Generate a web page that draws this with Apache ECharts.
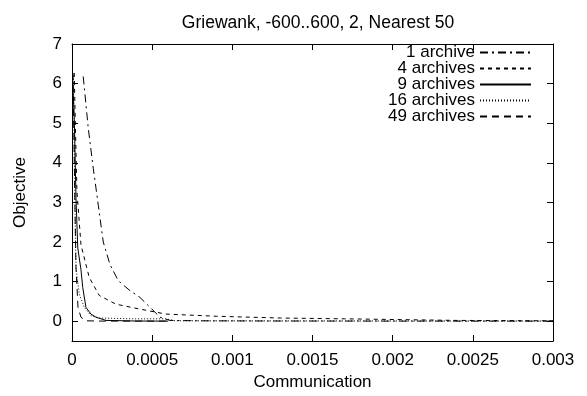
<!DOCTYPE html>
<html>
<head>
<meta charset="utf-8">
<script src="https://cdn.jsdelivr.net/npm/echarts@6/dist/echarts.min.js"></script>
<style>html,body{margin:0;padding:0;background:#fff;}#c{width:587px;height:396px;}</style>
</head>
<body>
<div id="c"></div>
<script>
const titleText = 'Griewank, -600..600, 2, Nearest 50';
const seriesNames = ['1 archive', '4 archives', '9 archives', '16 archives', '49 archives'];
const xTicks = [0, 0.0005, 0.001, 0.0015, 0.002, 0.0025, 0.003];
const yTicks = [0, 1, 2, 3, 4, 5, 6, 7];

const comm1 = [0.00007, 0.000102, 0.000133, 0.000164, 0.000195, 0.000237, 0.000289, 0.000362, 0.000424, 0.000487, 0.000549, 0.000611, 0.0008, 0.0012, 0.002, 0.003];
const obj1  = [6.18, 4.85, 3.85, 2.93, 2.0, 1.43, 1.02, 0.77, 0.6, 0.35, 0.1, 0.02, 0.01, 0.005, 0.003, 0.002];

const comm4 = [0.000014, 0.000021, 0.000031, 0.000056, 0.000092, 0.000108, 0.00017, 0.000274, 0.000418, 0.000586, 0.0009, 0.0013, 0.0017, 0.0024, 0.003];
const obj4  = [6.27, 4.93, 3.27, 1.93, 1.35, 1.1, 0.65, 0.43, 0.31, 0.18, 0.125, 0.08, 0.06, 0.02, 0.01];

const comm9 = [0.000004, 0.000015, 0.000025, 0.000036, 0.000056, 0.000067, 0.000087, 0.000118, 0.00015, 0.000212, 0.0004, 0.0006];
const obj9  = [6.15, 5.0, 3.1, 1.85, 1.3, 0.85, 0.35, 0.18, 0.1, 0.02, 0.005, 0.002];

const comm16 = [0.0000094, 0.0000156, 0.00002, 0.000025, 0.0000455, 0.0000767, 0.000118, 0.00017, 0.000379, 0.000586, 0.000642, 0.00111, 0.002046, 0.003];
const obj16  = [6.2, 4.0, 2.5, 1.35, 0.68, 0.35, 0.14, 0.08, 0.06, 0.06, 0.01, 0.008, 0.005, 0.003];

const comm49 = [0.0000062, 0.0000125, 0.0000187, 0.000025, 0.0000374, 0.0000561, 0.0000873, 0.000175, 0.0006];
const obj49  = [6.27, 4.5, 2.8, 1.35, 0.35, 0.1, 0.01, 0.003, 0.002];

const dashes = [[8, 4, 2, 4], [4, 4], 'solid', [1, 2], [7, 5]];
const xs = [comm1, comm4, comm9, comm16, comm49];
const ys = [obj1, obj4, obj9, obj16, obj49];

const FONT = 'Liberation Sans';
const FS = 17;
const chart = echarts.init(document.getElementById('c'), null, {renderer: 'canvas'});

const series = seriesNames.map((name, i) => ({
  name: name,
  type: 'line',
  xAxisIndex: 0, yAxisIndex: 0,
  showSymbol: false,
  symbol: 'none',
  animation: false,
  data: xs[i].map((x, j) => [x, ys[i][j]]),
  lineStyle: {color: '#000', width: 1, type: dashes[i]},
  itemStyle: {color: '#000'},
  z: 2
}));

function fmtX(v) { return String(+v.toFixed(4)); }

const axisCommon = {
  axisLine: {show: true, onZero: false, lineStyle: {color: '#000', width: 1}},
  axisTick: {show: true, inside: true, length: 6, lineStyle: {color: '#000', width: 1}},
  splitLine: {show: false}
};

chart.setOption({
  animation: false,
  backgroundColor: '#fff',
  title: {
    text: titleText,
    left: 313, top: 9, textAlign: 'center',
    textStyle: {fontFamily: FONT, fontSize: 17.5, fontWeight: 'normal', color: '#000'}
  },
  legend: {
    data: seriesNames,
    orient: 'vertical',
    right: 55, top: 44,
    align: 'right',
    itemWidth: 51, itemHeight: 14, itemGap: -1, padding: 0,
    itemStyle: {opacity: 0},
    textStyle: {fontFamily: FONT, fontSize: FS, color: '#000'},
    selectedMode: false
  },
  grid: {left: 72, top: 44, width: 481, height: 300, containLabel: false},
  xAxis: [
    Object.assign({}, axisCommon, {
      type: 'value', position: 'bottom', min: 0, max: 0.003, interval: 0.0005,
      name: 'Communication', nameLocation: 'middle', nameGap: 33,
      nameTextStyle: {fontFamily: FONT, fontSize: FS, color: '#000'},
      axisLabel: {fontFamily: FONT, fontSize: FS, color: '#000', margin: 11, formatter: fmtX,
        customValues: xTicks},
      axisTick: Object.assign({}, axisCommon.axisTick, {customValues: xTicks})
    }),
    Object.assign({}, axisCommon, {
      type: 'value', position: 'top', min: 0, max: 0.003, interval: 0.0005,
      axisLabel: {show: false}
    })
  ],
  yAxis: [
    Object.assign({}, axisCommon, {
      type: 'value', position: 'left', min: -0.5, max: 7,
      name: 'Objective', nameLocation: 'middle', nameGap: 43, nameRotate: 90,
      nameTextStyle: {fontFamily: FONT, fontSize: FS, color: '#000'},
      axisLabel: {fontFamily: FONT, fontSize: FS, color: '#000', margin: 10, customValues: yTicks},
      axisTick: Object.assign({}, axisCommon.axisTick, {customValues: yTicks})
    }),
    Object.assign({}, axisCommon, {
      type: 'value', position: 'right', min: -0.5, max: 7,
      axisLabel: {show: false, customValues: yTicks},
      axisTick: Object.assign({}, axisCommon.axisTick, {customValues: yTicks})
    })
  ],
  series: series
});
</script>
</body>
</html>
